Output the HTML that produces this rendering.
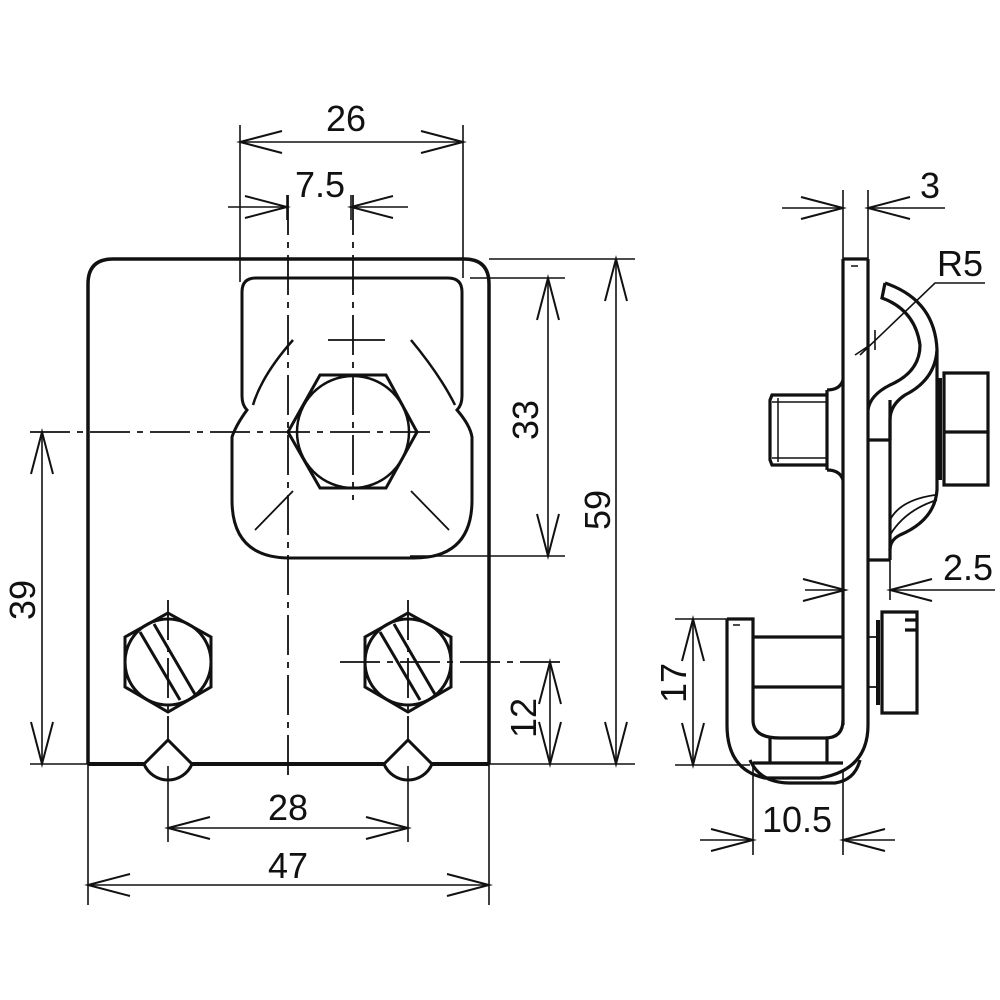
<!DOCTYPE html>
<html><head><meta charset="utf-8"><style>
html,body{margin:0;padding:0;background:#fff}
svg{display:block}
text{font-family:"Liberation Sans",sans-serif;font-size:36px;fill:#111}
</style></head><body>
<svg width="1000" height="1000" viewBox="0 0 1000 1000" xmlns="http://www.w3.org/2000/svg">
<defs>
<marker id="a" markerUnits="userSpaceOnUse" markerWidth="60" markerHeight="40" refX="0" refY="0" viewBox="-50 -20 60 40" orient="auto-start-reverse" overflow="visible">
<path d="M-42,-11 L0,0 L-42,11" fill="none" stroke="#111" stroke-width="2"/>
</marker>
</defs>
<g fill="none" stroke="#111" stroke-linecap="butt">
<path d="M88,764 L88,284 Q88,259 113,259 L464,259 Q489,259 489,284 L489,764" stroke-width="3.5"/>
<path d="M88,764 L144,764 M192,764 L384,764 M432,764 L489,764" stroke-width="4"/>
<path d="M144,764 L168,740 L192,764 A26,26 0 0 1 144,764 Z M384,764 L408,740 L432,764 A26,26 0 0 1 384,764 Z" stroke-width="3"/>
<path d="M242,292 Q242,278 256,278 L448,278 Q462,278 462,292 L462,396 Q462,405 457,410 Q470,425 472,437 L472,500 Q472,558 414,558 L290,558 Q232,558 232,500 L232,437 Q236,425 247,410 Q242,405 242,396 Z" stroke-width="3"/>
<path d="M293,340 Q262,375 253,405 M411,340 Q440,375 455,405" stroke-width="2.5"/>
<path d="M293,491 L255,530 M411,491 L449,530 M328,340 L385,340" stroke-width="1.8"/>
<polygon points="288,432 320,375 386,375 417,432 386,488 320,488" stroke-width="3"/>
<circle cx="353" cy="432" r="56" stroke-width="2.5"/>
<g stroke-width="3">
<polygon points="168,613 211,637 211,687 168,712 125,687 125,637"/>
<circle cx="168" cy="662" r="43"/>
<path d="M140,632 L180,700 M154,624 L196,696"/>
<polygon points="408,613 451,637 451,687 408,712 365,687 365,637"/>
<circle cx="408" cy="662" r="43"/>
<path d="M380,632 L420,700 M394,624 L436,696"/>
</g>
<path d="M168,600 L168,740 M408,600 L408,740" stroke-width="1.8" stroke-dasharray="40,6,6,6"/>
<g stroke-width="1.8" stroke-dasharray="40,7,6,7">
<path d="M288,195 L288,780"/>
<path d="M353,195 L353,500"/>
<path d="M30,432 L432,432"/>
<path d="M340,662 L565,662"/>
</g>
<g stroke-width="1.6">
<path d="M240,125 L240,282 M463,125 L463,278"/>
<path d="M240,142 L463,142" marker-start="url(#a)" marker-end="url(#a)"/>
<path d="M287,195 L287,220 M351,195 L351,220"/>
<path d="M228,207 L287,207" marker-end="url(#a)"/>
<path d="M408,207 L351,207" marker-end="url(#a)"/>
<path d="M470,278 L565,278 M410,556 L565,556 M489,259 L635,259 M489,764 L635,764 M30,764 L88,764"/>
<path d="M548,278 L548,556" marker-start="url(#a)" marker-end="url(#a)"/>
<path d="M616,259 L616,764" marker-start="url(#a)" marker-end="url(#a)"/>
<path d="M42,432 L42,764" marker-start="url(#a)" marker-end="url(#a)"/>
<path d="M550,662 L550,764" marker-start="url(#a)" marker-end="url(#a)"/>
<path d="M168,766 L168,842 M408,766 L408,842 M88,764 L88,905 M489,764 L489,905"/>
<path d="M168,828 L408,828" marker-start="url(#a)" marker-end="url(#a)"/>
<path d="M88,885 L489,885" marker-start="url(#a)" marker-end="url(#a)"/>
</g>
<g stroke-width="3.2">
<path d="M843,259 L868,259 M843,259 L843,725 M868,259 L868,725"/>
<path d="M868,440 L890,440 M868,560 L890,560 M890,400 L890,560"/>
<path d="M885,283 L882,298 Q915,310 920,345 Q920,372 890,385 Q870,395 868,410 M885,283 Q935,300 937,350 Q935,380 905,395 Q890,405 890,420 L890,440"/>
<path d="M937,350 L937,490 Q935,520 900,535 Q890,540 890,550"/>
<path d="M890,520 Q900,500 935,495 M890,535 Q905,510 937,500" stroke-width="1.8"/>
<path d="M827,395 L772,395 L770,400 L770,460 L772,465 L827,465 M827,390 Q840,390 843,380 M827,470 Q840,470 843,480 M827,390 L827,470"/>
<path d="M778,398 L778,462 M772,402 L827,402 M772,458 L827,458" stroke-width="1.5"/>
<path d="M944,373 L988,373 L988,485 L944,485 Z M944,432 L988,432"/>
<path d="M940,378 L940,480" stroke-width="4"/>
<path d="M727,619 L753,619 L753,720 Q753,738 780,738 L825,738 Q843,738 843,720 M727,619 L727,725 Q727,770 765,778 L820,778 Q868,770 868,725"/>
<path d="M750,760 Q760,783 790,783 L835,783 Q855,780 860,760"/>
<path d="M770,738 L770,763 M827,738 L827,763 M753,763 L843,763"/>
<path d="M753,637 L843,637 M753,687 L843,687"/>
<path d="M868,637 L880,637 M868,687 L880,687" stroke-width="1.8"/>
<path d="M882,612 L917,612 L917,713 L882,713 Z M905,620 L917,620 L917,630 L905,630"/>
<path d="M878,620 L878,705" stroke-width="4"/>
</g>
<path d="M733,625 L740,625 M851,266 L858,266" stroke-width="1.5"/>
<g stroke-width="1.6">
<path d="M843,190 L843,259 M868,190 L868,259"/>
<path d="M782,208 L843,208" marker-end="url(#a)"/>
<path d="M945,208 L868,208" marker-end="url(#a)"/>
<path d="M860,355 L935,283 L985,283 M870,345 L855,355 M875,330 L875,350"/>
<path d="M805,590 L845,590" marker-end="url(#a)"/>
<path d="M995,590 L890,590" marker-end="url(#a)"/>
<path d="M890,560 L890,600"/>
<path d="M675,619 L727,619 M675,765 L750,765"/>
<path d="M693,619 L693,765" marker-start="url(#a)" marker-end="url(#a)"/>
<path d="M753,765 L753,855 M843,770 L843,855"/>
<path d="M700,840 L753,840" marker-end="url(#a)"/>
<path d="M895,840 L843,840" marker-end="url(#a)"/>
</g>
</g>
<text x="346" y="131" text-anchor="middle">26</text>
<text x="320" y="197" text-anchor="middle">7.5</text>
<text transform="translate(538,420) rotate(-90)" text-anchor="middle">33</text>
<text transform="translate(610,510) rotate(-90)" text-anchor="middle">59</text>
<text transform="translate(35,600) rotate(-90)" text-anchor="middle">39</text>
<text transform="translate(536,718) rotate(-90)" text-anchor="middle">12</text>
<text x="288" y="820" text-anchor="middle">28</text>
<text x="288" y="878" text-anchor="middle">47</text>
<text x="930" y="198" text-anchor="middle">3</text>
<text x="960" y="276" text-anchor="middle">R5</text>
<text x="968" y="580" text-anchor="middle">2.5</text>
<text transform="translate(686,683) rotate(-90)" text-anchor="middle">17</text>
<text x="797" y="832" text-anchor="middle">10.5</text>
</svg>
</body></html>
